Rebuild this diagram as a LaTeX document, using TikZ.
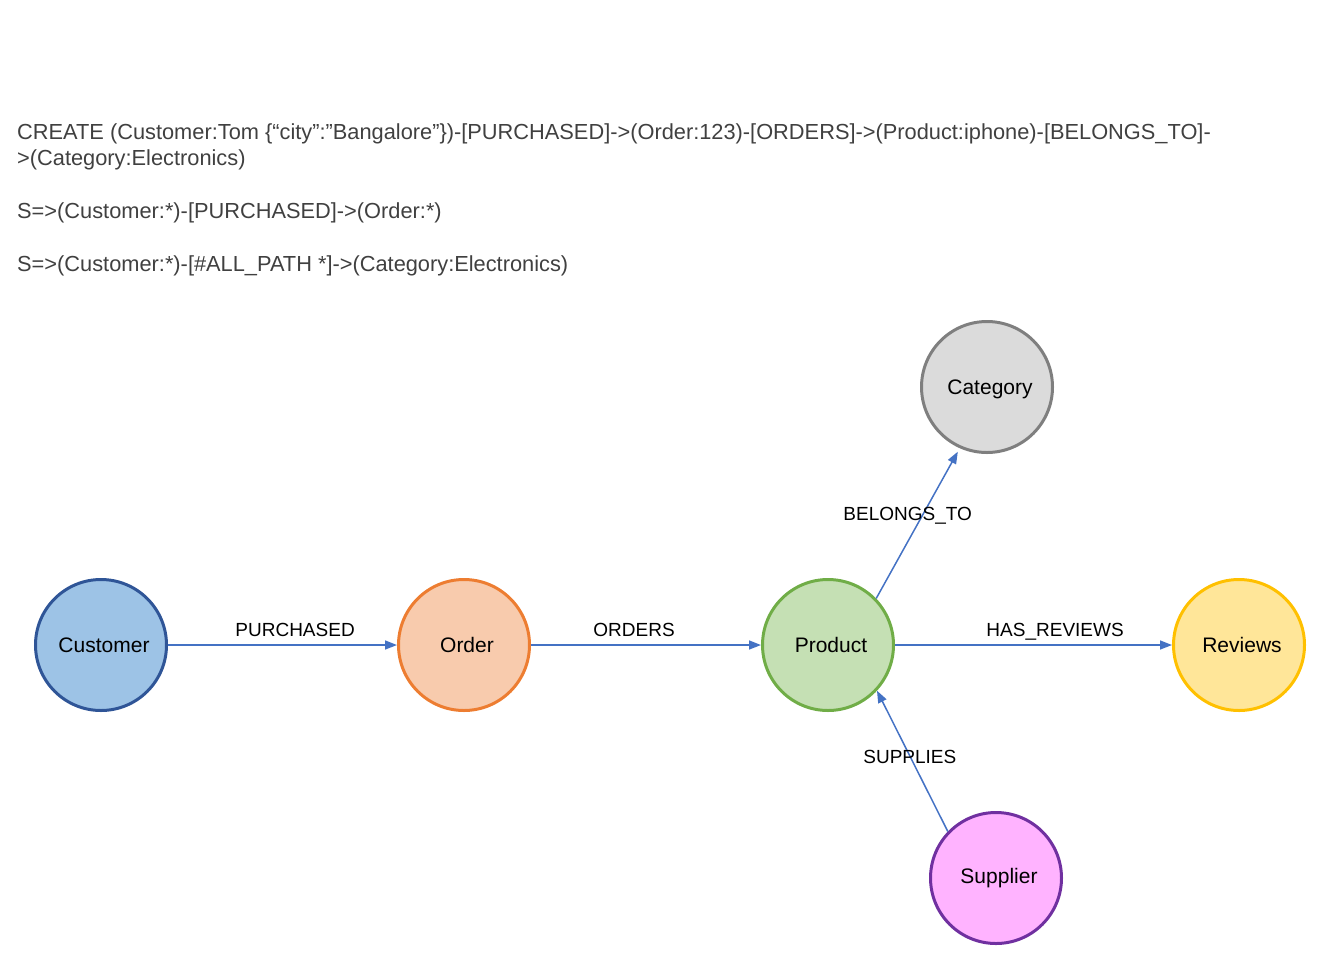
\documentclass[tikz,border=0pt]{standalone}
\usepackage{fontspec}
\setmainfont{Liberation Sans}
\usetikzlibrary{positioning, arrows.meta}

\definecolor{custfill}{HTML}{9DC3E6}
\definecolor{custline}{HTML}{2F5597}
\definecolor{ordfill}{HTML}{F8CBAD}
\definecolor{ordline}{HTML}{ED7D31}
\definecolor{prodfill}{HTML}{C5E0B4}
\definecolor{prodline}{HTML}{70AD47}
\definecolor{revfill}{HTML}{FFE699}
\definecolor{revline}{HTML}{FFC000}
\definecolor{catfill}{HTML}{DBDBDB}
\definecolor{catline}{HTML}{7F7F7F}
\definecolor{supfill}{HTML}{FFB3FF}
\definecolor{supline}{HTML}{7030A0}
\definecolor{relblue}{HTML}{4472C4}
\definecolor{querygray}{HTML}{404040}

\tikzset{
  entity/.style={circle, line width=3pt, minimum size=131pt, inner sep=0pt},
  entitytext/.style={inner sep=0pt, xshift=3pt, font=\fontsize{21}{25}\selectfont},
  rel/.style={draw=relblue, line width=1.5pt, -{Triangle[length=12pt,width=9pt]}},
  rellabel/.style={font=\fontsize{19}{23}\selectfont, inner sep=0pt, anchor=base},
  query/.style={anchor=base west, inner sep=0pt, text=querygray,
    font=\fontsize{21.8}{26}\selectfont}
}

\begin{document}
\begin{tikzpicture}[x=1pt, y=-1pt]
\useasboundingbox (0,0) rectangle (1339,954);

% Query text
\node[query] (create1) at (17,139) {CREATE (Customer:Tom \{“city”:”Bangalore”\})-[PURCHASED]->(Order:123)-[ORDERS]->(Product:iphone)-[BELONGS\_TO]-};
\node[query] (create2) at (17,165) {>(Category:Electronics)};
\node[query] (search1) at (17,218) {S=>(Customer:*)-[PURCHASED]->(Order:*)};
\node[query] (search2) at (17,271) {S=>(Customer:*)-[\#ALL\_PATH *]->(Category:Electronics)};

% Entities
\node[entity, fill=custfill, draw=custline] (customer) at (101,645) {};
\node[entity, fill=ordfill, draw=ordline] (order) at (464,645) {};
\node[entity, fill=prodfill, draw=prodline] (product) at (828,645) {};
\node[entity, fill=revfill, draw=revline] (reviews) at (1239,645) {};
\node[entity, fill=catfill, draw=catline] (category) at (987,387) {};
\node[entity, fill=supfill, draw=supline] (supplier) at (996,878) {};

% Entity names
\node[entitytext] (customertext) at (customer) {Customer};
\node[entitytext] (ordertext) at (order) {Order};
\node[entitytext] (producttext) at (product) {Product};
\node[entitytext] (reviewstext) at (reviews) {Reviews};
\node[entitytext, yshift=-2pt] (categorytext) at (category) {Category};
\node[entitytext] (suppliertext) at (supplier) {Supplier};

% Relations
\draw[rel] (customer) -- (order) node[rellabel, pos=.555, yshift=9pt] (purchased) {PURCHASED};
\draw[rel] (order) -- (product) node[rellabel, pos=.448, yshift=9pt] (orders) {ORDERS};
\draw[rel] (product) -- (reviews) node[rellabel, pos=.578, yshift=9pt] (hasreviews) {HAS\_REVIEWS};
\draw[rel, shorten >=4pt] (product.44) -- (category.246) node[rellabel, pos=.52, xshift=-12pt] (belongsto) {BELONGS\_TO};
\draw[rel] (supplier.136) -- (product.-43) node[rellabel, pos=.48, xshift=-4pt] (supplies) {SUPPLIES};
\end{tikzpicture}
\end{document}
